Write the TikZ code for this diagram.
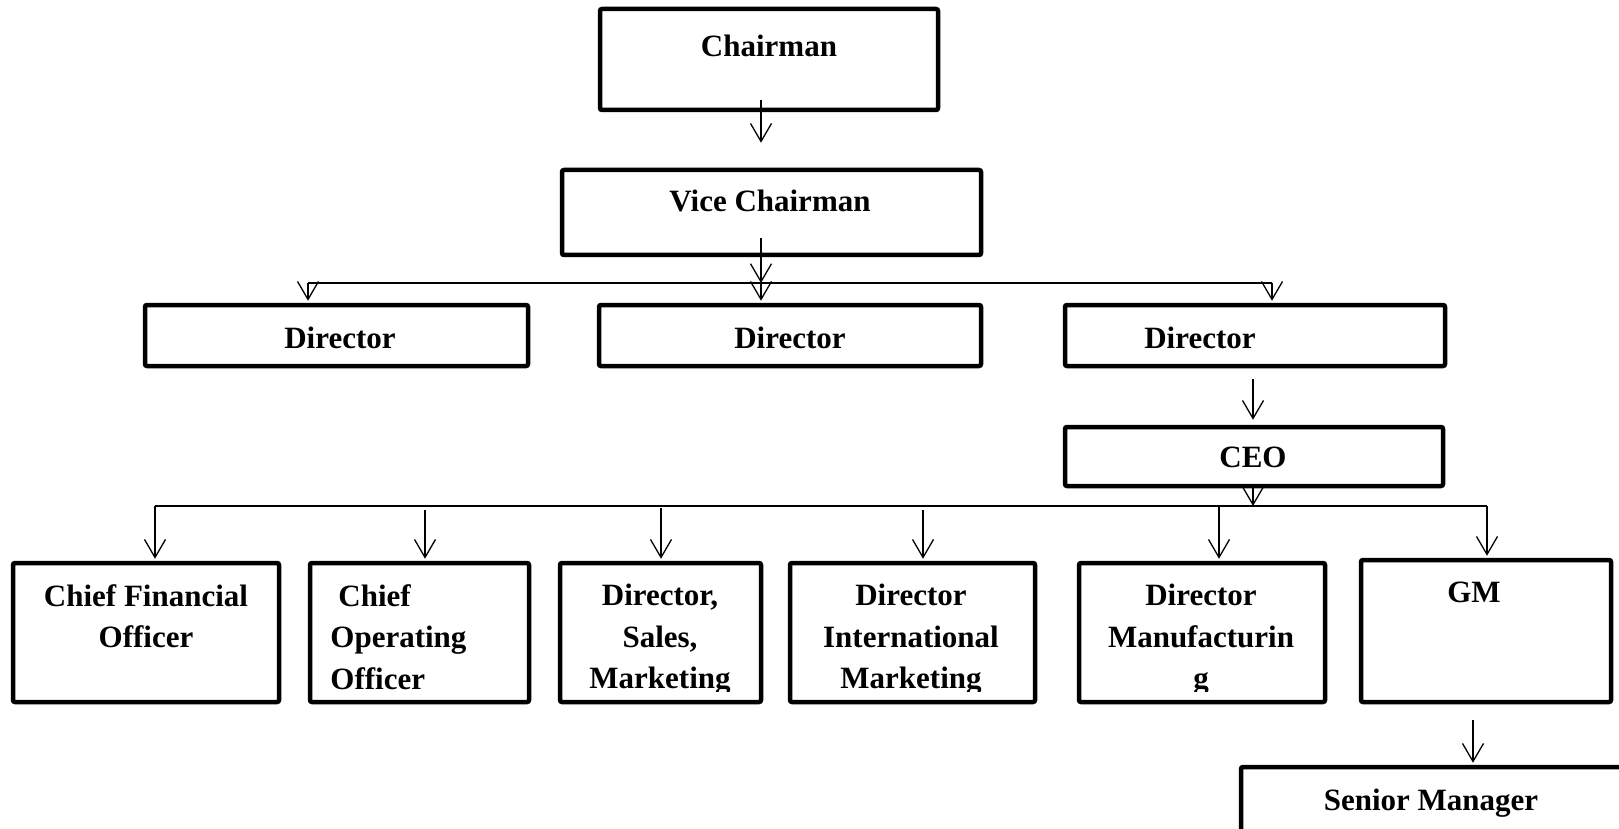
\documentclass[tikz,border=0pt]{standalone}
\usepackage{fontspec}
\setmainfont{Liberation Serif}
\usetikzlibrary{calc,arrows.meta}
\tikzset{
    post/.style={
    rectangle,draw=black,line width=2.25pt,rounded corners=1pt,inner sep=0pt
    },
    title/.style={
    font=\fontsize{15.5pt}{20.75pt}\selectfont\bfseries,inner sep=0pt
    },
    link/.style={
    -{Straight Barb[length=9pt,width=10.5pt]},line width=0.65pt,shorten >=1pt
    },
    bus/.style={
    line width=1.2pt
    },
}
\begin{document}
\begin{tikzpicture}[x=0.5pt, y=-0.5pt]
   \useasboundingbox (0,0) rectangle (1619,829);

   \node[post, minimum width=169pt, minimum height=50.5pt] (chair) at (769,59.5) {};
   \node[post, minimum width=209.5pt, minimum height=42.5pt] (vice) at (771.5,212.5) {};
   \node[post, minimum width=191.5pt, minimum height=30.5pt] (dirA) at (336.5,335.5) {};
   \node[post, minimum width=191pt, minimum height=30.5pt] (dirB) at (790,335.5) {};
   \node[post, minimum width=190pt, minimum height=30.5pt] (dirC) at (1255,335.5) {};
   \node[post, minimum width=189pt, minimum height=29.5pt] (ceo) at (1254,456.5) {};
   \node[post, minimum width=133pt, minimum height=69.5pt] (cfo) at (146,632.5) {};
   \node[post, minimum width=109.5pt, minimum height=69.5pt] (coo) at (419.5,632.5) {};
   \node[post, minimum width=100.5pt, minimum height=69.5pt] (dsm) at (660.5,632.5) {};
   \node[post, minimum width=122.5pt, minimum height=69.5pt] (dim) at (912.5,632.5) {};
   \node[post, minimum width=123pt, minimum height=69.5pt] (dmf) at (1202,632.5) {};
   \node[post, minimum width=125pt, minimum height=71pt] (gm) at (1486,631) {};
   \node[post, minimum width=218.5pt, minimum height=45.5pt] (senior) at (1459.5,812.5) {};

   \node[title, anchor=base] (chairT) at (769,57) {Chairman};
   \node[title, anchor=base] (viceT) at (770,212) {Vice Chairman};
   \node[title, anchor=base] (dirAT) at (340,348) {Director};
   \node[title, anchor=base] (dirBT) at (790,348) {Director};
   \node[title, anchor=base] (dirCT) at (1200,348) {Director};
   \node[title, anchor=base] (ceoT) at (1253,467) {CEO};
   \node[title, anchor=base] (gmT) at (1474,602) {GM};
   \node[title, anchor=base] (seniorT) at (1431,810) {Senior Manager};
   \begin{scope}
     \clip (0,561) rectangle (1619,691);
     \node[title, anchor=north, align=center] (cfoT) at (146,584) {Chief Financial\\Officer};
     \node[title, anchor=north west, align=left] (cooT) at (330,584) {\hspace*{4pt}Chief\\Operating\\Officer};
     \node[title, anchor=north, align=center] (dsmT) at (660,584) {Director,\\Sales,\\Marketing};
     \node[title, anchor=north, align=center] (dimT) at (911,584) {Director\\International\\Marketing};
     \node[title, anchor=north, align=center] (dmfT) at (1201,584) {Director\\Manufacturin\\g};
   \end{scope}

   \coordinate (busL) at (308,283);
   \coordinate (busM) at (761,283);
   \coordinate (busR) at (1272,283);
   \coordinate (busF) at (155,506);
   \coordinate (busC) at (1253,506);
   \coordinate (busG) at (1487,506);

   \draw[link] ($(chair.south)+(-8,-12)$) -- ($(vice.north)+(-10.5,-23)$);
   \draw[link, shorten >=0pt] ($(vice.south)+(-10.5,-19)$) -- (busM);
   \draw[bus] (busL) -- (busR);
   \draw[link] (busL) -- (busL |- dirA.north);
   \draw[link] (busM) -- (busM |- dirB.north);
   \draw[link] (busR) -- (busR |- dirC.north);
   \draw[link] ($(dirC.south)+(-2,11)$) -- ($(ceo.north)+(-1,-3)$);
   \draw[link, shorten >=0pt] ($(ceo.south)+(-1,-2)$) -- (busC);
   \draw[bus] (busF) -- (busG);
   \draw[link] (busF) -- (busF |- cfo.north);
   \foreach \n/\x/\y in {coo/425/510, dsm/661/508, dim/923/510, dmf/1219/507}
     \draw[link] (\x,\y) -- (\x,\y |- \n.north);
   \draw[link] (busG) -- (busG |- gm.north);
   \draw[link] ($(gm.south)+(-13,16)$) -- ($(senior.north)+(13.5,0)$);
\end{tikzpicture}
\end{document}
